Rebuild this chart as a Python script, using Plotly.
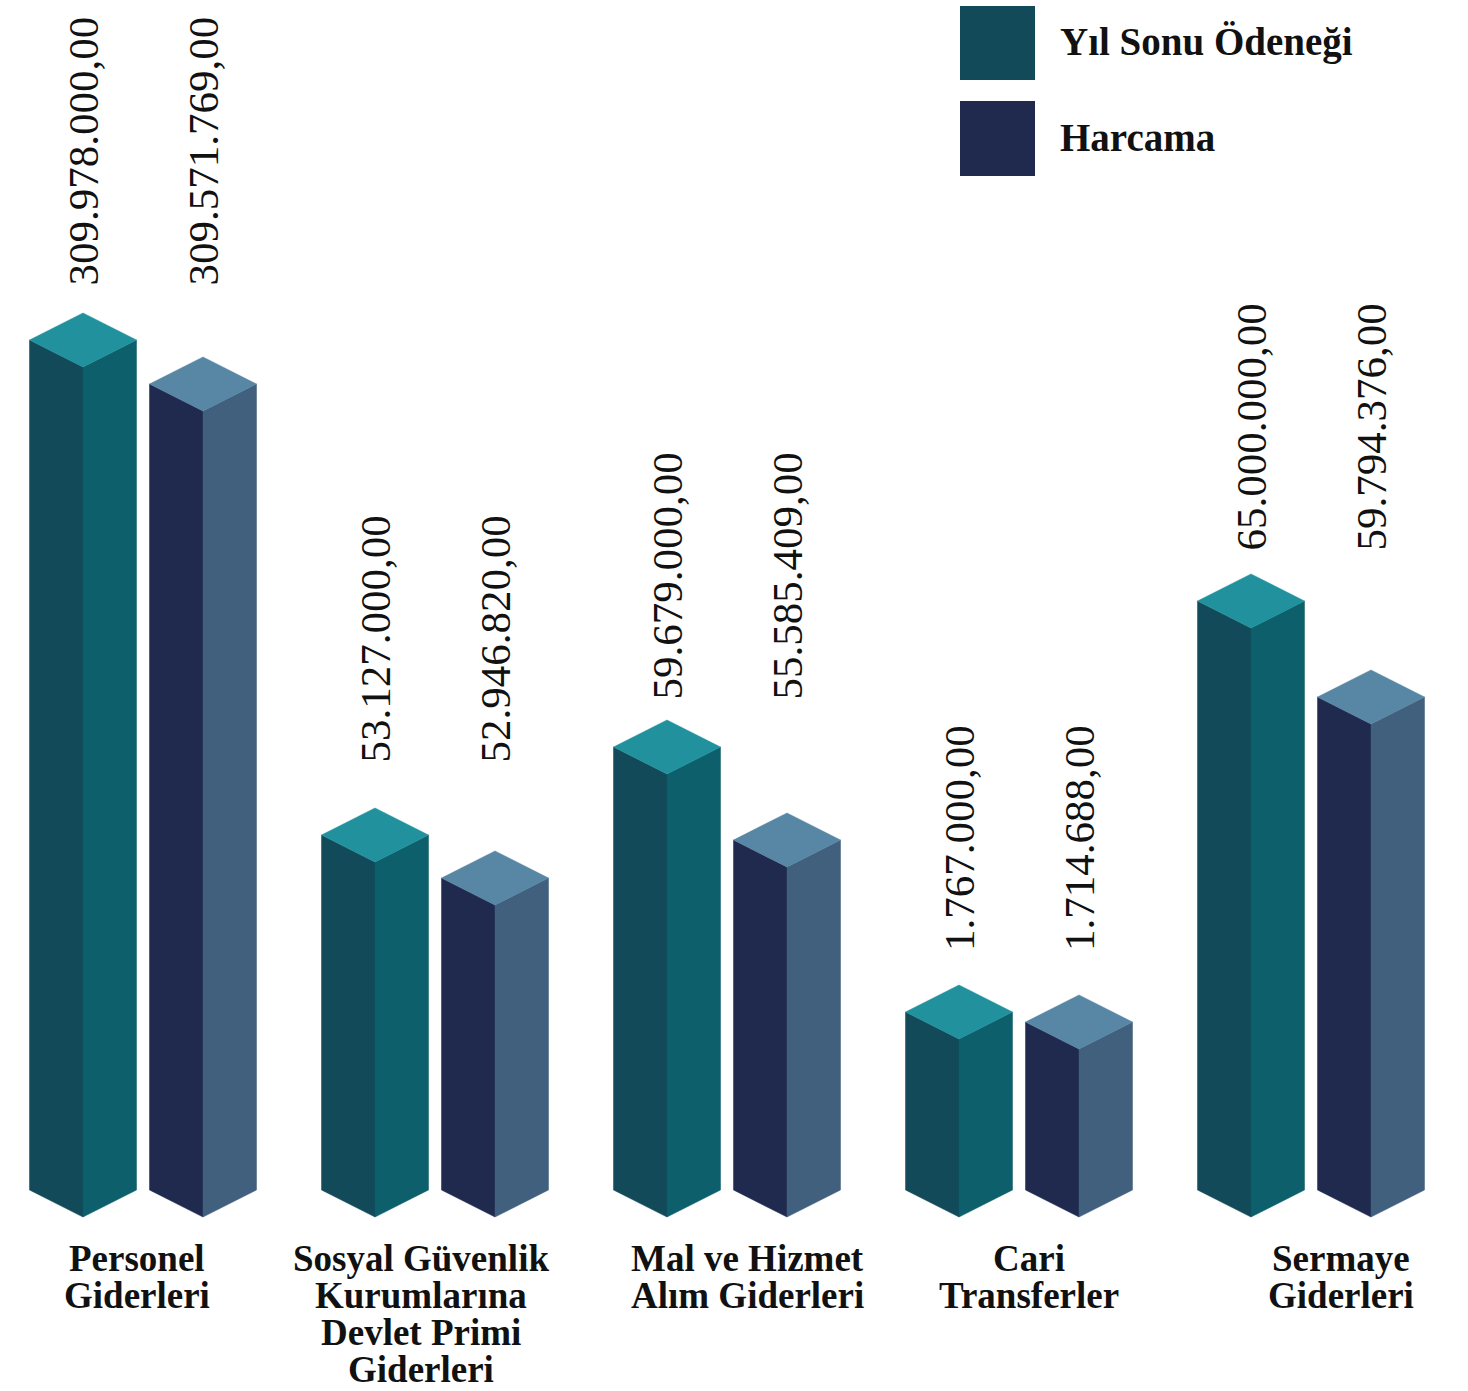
import plotly.graph_objects as go

# ---------------- data ----------------
categories = [
    ["Personel", "Giderleri"],
    ["Sosyal Güvenlik", "Kurumlarına", "Devlet Primi", "Giderleri"],
    ["Mal ve Hizmet", "Alım Giderleri"],
    ["Cari", "Transferler"],
    ["Sermaye", "Giderleri"],
]
series_names = ["Yıl Sonu Ödeneği", "Harcama"]
yil_sonu_values = [309978000.00, 53127000.00, 59679000.00, 1767000.00, 65000000.00]
harcama_values = [309571769.00, 52946820.00, 55585409.00, 1714688.00, 59794376.00]
# drawn (front-edge) bar heights (the picture is not to scale)
yil_sonu_heights = [850, 355, 443, 178, 589]
harcama_heights = [806, 312, 350, 168, 493]

# ---------------- layout constants ----------------
W, H = 1468, 1391
BASE = 1217                 # pixel row of the front bottom corner
GROUP_X0 = 83               # first bar centre
GROUP_STEP = 292
PAIR_GAP = 120
HALF_W = 53.5
DEPTH = 27
LABEL_GAPS = [25, 43, 18, 32, 21]
CAT_X_OFFSET = [-6, -14, 20, 10, 30]
LINE_H = 37
CAT_Y0 = 1258
FONT = "Liberation Serif"

colors = {
    "Yıl Sonu Ödeneği": {"left": "#124a59", "right": "#0d5f6b", "top": "#21929d"},
    "Harcama": {"left": "#1f2a4e", "right": "#40607e", "top": "#5886a5"},
}


def tr_fmt(v):
    s = f"{v:,.2f}"
    return s.replace(",", "X").replace(".", ",").replace("X", ".")


fig = go.Figure()
annotations = []


def prism(xc, h, col):
    d = DEPTH
    w = HALF_W
    faces = [
        ([xc, xc - w, xc - w, xc, xc], [0, d, h + d, h, 0], col["left"]),
        ([xc, xc + w, xc + w, xc, xc], [0, d, h + d, h, 0], col["right"]),
        ([xc, xc - w, xc, xc + w, xc], [h, h + d, h + 2 * d, h + d, h], col["top"]),
    ]
    for xs, ys, c in faces:
        fig.add_trace(go.Scatter(
            x=xs, y=ys, mode="lines", fill="toself", fillcolor=c,
            line=dict(color=c, width=0.5), hoverinfo="skip", showlegend=False,
        ))


for i in range(len(categories)):
    gx = GROUP_X0 + i * GROUP_STEP
    label_y = yil_sonu_heights[i] + 2 * DEPTH + LABEL_GAPS[i]
    for j, (name, heights, vals) in enumerate([
        (series_names[0], yil_sonu_heights, yil_sonu_values),
        (series_names[1], harcama_heights, harcama_values),
    ]):
        xc = gx + j * PAIR_GAP
        prism(xc, heights[i], colors[name])
        annotations.append(dict(
            x=xc, y=label_y, xref="x", yref="y", text=tr_fmt(vals[i]),
            showarrow=False, textangle=-90, xanchor="center", yanchor="bottom",
            font=dict(family=FONT, size=43, color="#111111"),
        ))
    cx = gx + PAIR_GAP / 2 + CAT_X_OFFSET[i]
    for k, line in enumerate(categories[i]):
        py = CAT_Y0 + k * LINE_H
        annotations.append(dict(
            x=cx, y=BASE - py, xref="x", yref="y", text=f"<b>{line}</b>",
            showarrow=False, xanchor="center", yanchor="middle",
            font=dict(family=FONT, size=37, color="#111111"),
        ))

# legend (manual)
shapes = []
legend_rows = [(6, 80, 42), (101, 176, 137)]
for name, (y0, y1, yc) in zip(series_names, legend_rows):
    shapes.append(dict(
        type="rect", xref="paper", yref="paper",
        x0=960 / W, x1=1035 / W, y0=1 - y1 / H, y1=1 - y0 / H,
        fillcolor=colors[name]["left"], line=dict(width=0),
    ))
    annotations.append(dict(
        x=1058 / W, y=1 - yc / H, xref="paper", yref="paper",
        text=f"<b>{name}</b>", showarrow=False, xanchor="left", yanchor="middle",
        font=dict(family=FONT, size=39, color="#111111"),
    ))

fig.update_layout(
    width=W, height=H,
    margin=dict(l=0, r=0, t=0, b=0),
    paper_bgcolor="white", plot_bgcolor="white",
    xaxis=dict(range=[0, W], visible=False, fixedrange=True),
    yaxis=dict(range=[BASE - H, BASE], visible=False, fixedrange=True),
    annotations=annotations, shapes=shapes, showlegend=False,
)

fig.write_html("out.html")
